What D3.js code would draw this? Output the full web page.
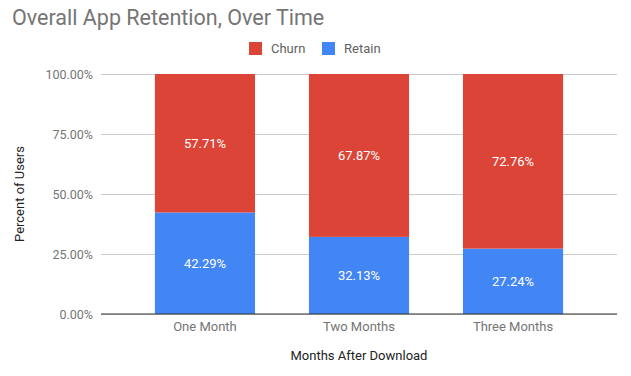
<!DOCTYPE html>
<html>
<head>
<meta charset="utf-8">
<script src="https://cdn.jsdelivr.net/npm/d3@7"></script>
<style>
  body { margin: 0; background: #fff; }
  svg { font-family: Roboto, Arial, sans-serif; }
</style>
</head>
<body>
<div id="chart"></div>
<script>
// Data
const categories = ['One Month', 'Two Months', 'Three Months'];
const retain = [42.29, 32.13, 27.24];
const churn = [57.71, 67.87, 72.76];
const seriesNames = ['Churn', 'Retain'];
const yTicks = [0, 25, 50, 75, 100];

const colors = { Churn: '#db4437', Retain: '#4285f4' };

function draw() {
    const width = 631, height = 376;
    const area = { left: 101, right: 617, top: 74, bottom: 314 };

    const svg = d3.select('#chart').append('svg')
        .attr('width', width)
        .attr('height', height);

    const x = d3.scaleBand()
        .domain(categories)
        .range([area.left, area.right])
        .padding(0.35);

    const y = d3.scaleLinear()
        .domain([0, 100])
        .range([area.bottom, area.top]);

    // Title
    svg.append('text')
        .attr('x', 12)
        .attr('y', 25)
        .attr('font-size', 21.5)
        .attr('fill', '#757575')
        .text('Overall App Retention, Over Time');

    // Legend
    const legendX = [249, 322];
    seriesNames.forEach((name, i) => {
        const g = svg.append('g').attr('transform', `translate(${legendX[i]}, 42)`);
        g.append('rect').attr('width', 13).attr('height', 13).attr('fill', colors[name]);
        g.append('text')
            .attr('x', 22)
            .attr('y', 11)
            .attr('font-size', 13)
            .attr('fill', '#616161')
            .text(name);
    });

    // Gridlines + y labels
    const yAxis = d3.axisLeft(y)
        .tickValues(yTicks)
        .tickSize(-(area.right - area.left))
        .tickPadding(8)
        .tickFormat(d => d.toFixed(2) + '%');

    const ga = svg.append('g')
        .attr('transform', `translate(${area.left},0)`)
        .call(yAxis);
    ga.select('.domain').remove();
    ga.selectAll('.tick line').attr('stroke', '#cccccc');
    ga.selectAll('.tick text')
        .attr('font-size', 12.5)
        .attr('fill', '#757575')
        .attr('font-family', 'Roboto, Arial, sans-serif');

    // Stacked bars
    const rows = categories.map((c, i) => ({ cat: c, Retain: retain[i], Churn: churn[i] }));
    const stack = d3.stack().keys(['Retain', 'Churn'])(rows);

    stack.forEach(layer => {
        const g = svg.append('g');
        g.selectAll('rect')
            .data(layer)
            .join('rect')
            .attr('x', d => x(d.data.cat))
            .attr('width', x.bandwidth())
            .attr('y', d => y(d[1]))
            .attr('height', d => y(d[0]) - y(d[1]))
            .attr('fill', colors[layer.key]);
        g.selectAll('text')
            .data(layer)
            .join('text')
            .attr('x', d => x(d.data.cat) + x.bandwidth() / 2)
            .attr('y', d => (y(d[0]) + y(d[1])) / 2 + 4.5)
            .attr('text-anchor', 'middle')
            .attr('font-size', 13)
            .attr('fill', '#ffffff')
            .text(d => d.data[layer.key].toFixed(2) + '%');
    });

    // Baseline
    svg.append('line')
        .attr('x1', area.left).attr('x2', area.right)
        .attr('y1', y(0)).attr('y2', y(0))
        .attr('stroke', '#333333')
        .attr('stroke-width', 1);

    // X labels
    const xAxis = d3.axisBottom(x).tickSize(0).tickPadding(8);
    const gx = svg.append('g')
        .attr('transform', `translate(0,${area.bottom})`)
        .call(xAxis);
    gx.select('.domain').remove();
    gx.selectAll('.tick text')
        .attr('font-size', 13)
        .attr('fill', '#757575')
        .attr('font-family', 'Roboto, Arial, sans-serif');

    // Axis titles
    svg.append('text')
        .attr('x', (area.left + area.right) / 2)
        .attr('y', 360)
        .attr('text-anchor', 'middle')
        .attr('font-size', 13)
        .attr('fill', '#222222')
        .text('Months After Download');

    svg.append('text')
        .attr('transform', `translate(24, ${(area.top + area.bottom) / 2}) rotate(-90)`)
        .attr('text-anchor', 'middle')
        .attr('font-size', 13)
        .attr('fill', '#222222')
        .text('Percent of Users');
}

draw();
</script>
</body>
</html>
